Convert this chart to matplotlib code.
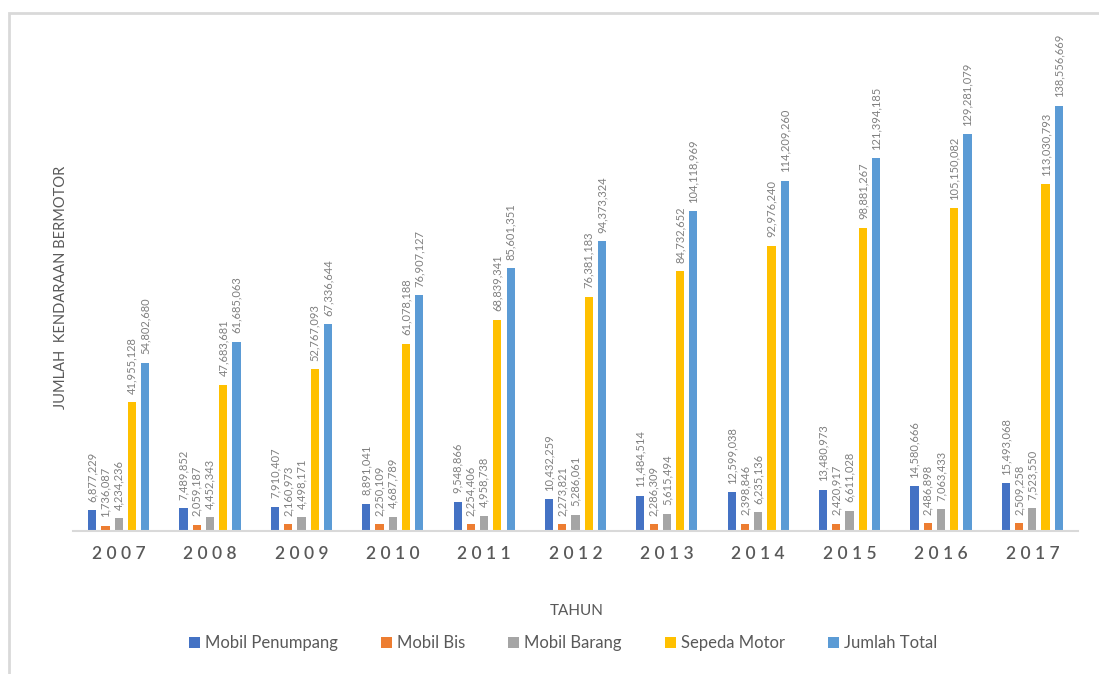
import numpy as np
import matplotlib.pyplot as plt
from matplotlib.patches import Rectangle

plt.rcParams['font.family'] = ['Lato', 'DejaVu Sans']

tahun = ['2007', '2008', '2009', '2010', '2011', '2012', '2013', '2014', '2015', '2016', '2017']
mobil_penumpang = [6877229, 7489852, 7910407, 8891041, 9548866, 10432259, 11484514, 12599038, 13480973, 14580666, 15493068]
mobil_bis = [1736087, 2059187, 2160973, 2250109, 2254406, 2273821, 2286309, 2398846, 2420917, 2486898, 2509258]
mobil_barang = [4234236, 4452343, 4498171, 4687789, 4958738, 5286061, 5615494, 6235136, 6611028, 7063433, 7523550]
sepeda_motor = [41955128, 47683681, 52767093, 61078188, 68839341, 76381183, 84732652, 92976240, 98881267, 105150082, 113030793]
jumlah_total = [54802680, 61685063, 67336644, 76907127, 85601351, 94373324, 104118969, 114209260, 121394185, 129281079, 138556669]

series = [
    ('Mobil Penumpang', mobil_penumpang, '#4472C4'),
    ('Mobil Bis', mobil_bis, '#ED7D31'),
    ('Mobil Barang', mobil_barang, '#A5A5A5'),
    ('Sepeda Motor', sepeda_motor, '#FFC000'),
    ('Jumlah Total', jumlah_total, '#5B9BD5'),
]

W, H = 1099, 674
fig = plt.figure(figsize=(W / 100, H / 100), dpi=100)
ax = fig.add_axes([73 / W, 1 - 531 / H, (1078 - 73) / W, (531 - 40) / H])

x = np.arange(len(tahun))
step = 0.145
width = 0.09
for i, (name, vals, col) in enumerate(series):
    pos = x + (i - 2) * step
    ax.bar(pos, vals, width=width, color=col, label=name, zorder=2)
    for px, v in zip(pos, vals):
        ax.annotate(f'{v:,}', (px, v), xytext=(0, 6), textcoords='offset points',
                    rotation=90, ha='center', va='bottom', fontsize=8, color='#7F7F7F')

ax.set_xlim(-0.5, len(tahun) - 0.5)
ax.set_ylim(0, 160e6)
ax.set_yticks([])
ax.set_xticks(x)
ax.set_xticklabels([' '.join(t) for t in tahun], fontsize=12.5, color='#595959', fontweight='semibold')
ax.tick_params(axis='x', length=0, pad=11)
for s in ['top', 'right', 'left']:
    ax.spines[s].set_visible(False)
ax.spines['bottom'].set_color('#D9D9D9')
ax.spines['bottom'].set_linewidth(1.5)

fig.text(61 / W, 1 - 287 / H, 'JUMLAH  KENDARAAN BERMOTOR', rotation=90, ha='center', va='center',
         fontsize=10.5, color='#595959')
fig.text(577 / W, 1 - 611 / H, 'TAHUN', ha='center', va='center', fontsize=11, color='#595959')

fig.legend(loc='center', bbox_to_anchor=(563 / W, 1 - 643 / H), ncol=5, frameon=False,
           fontsize=12, handlelength=0.65, handleheight=0.65, handletextpad=0.3, columnspacing=2.6,
           labelcolor='#595959')

fig.patches.append(Rectangle((9 / W, -0.1), 1.2, 1 - 13 / H + 0.1, transform=fig.transFigure,
                             fill=False, edgecolor='#D9D9D9', linewidth=2))

fig.savefig('out.png', dpi=100)
